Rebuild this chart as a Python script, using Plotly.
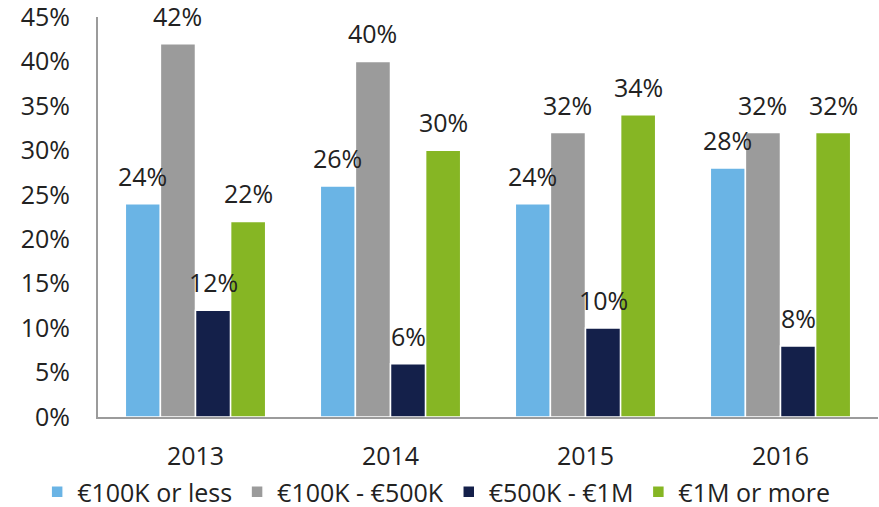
import plotly.graph_objects as go

years = ["2013", "2014", "2015", "2016"]
series_names = ["€100K or less", "€100K - €500K", "€500K - €1M", "€1M or more"]
less_100k = [24, 26, 24, 28]
k100_500 = [42, 40, 32, 32]
k500_1m = [12, 6, 10, 8]
m1_more = [22, 30, 34, 32]
y_ticks = [0, 5, 10, 15, 20, 25, 30, 35, 40, 45]

series_values = [less_100k, k100_500, k500_1m, m1_more]
colors = ["#6AB4E5", "#9B9B9B", "#14204A", "#86B624"]

FONT = "Open Sans"
FS = 25
bargap = 0.28

fig = go.Figure()
for name, vals, col in zip(series_names, series_values, colors):
    fig.add_trace(go.Bar(
        x=years, y=vals, name=name,
        marker=dict(color=col, line=dict(color="white", width=1.5)),
    ))

n = len(series_values)
w = (1 - bargap) / n
for i, vals in enumerate(series_values):
    off = -(1 - bargap) / 2 + w * (i + 0.5)
    for j, v in enumerate(vals):
        fig.add_annotation(
            x=j + off, y=v, text=f"{v}%", showarrow=False,
            xref="x", yref="y", yanchor="bottom", yshift=9,
            font=dict(family=FONT, size=FS, color="#222222"),
        )

fig.update_layout(
    width=879, height=507,
    margin=dict(l=98, r=1, t=17, b=90, autoexpand=False),
    paper_bgcolor="white", plot_bgcolor="white",
    barmode="group", bargap=bargap, bargroupgap=0,
    font=dict(family=FONT, size=FS, color="#222222"),
    showlegend=True,
    legend=dict(
        orientation="h", xref="paper", x=-0.078, xanchor="left",
        y=-0.1875, yanchor="middle",
        font=dict(family=FONT, size=FS, color="#222222"),
        itemwidth=30, traceorder="normal",
    ),
)
fig.update_xaxes(
    type="category", range=[-0.5, 3.5],
    showline=True, linecolor="#9B9B9B", linewidth=2,
    showgrid=False, ticks="", ticklabelstandoff=16,
    tickfont=dict(family=FONT, size=FS, color="#222222"),
)
fig.update_yaxes(
    range=[0, 45], tickvals=y_ticks, ticktext=[f"{t}%" for t in y_ticks],
    showline=True, linecolor="#9B9B9B", linewidth=2,
    showgrid=False, zeroline=False, ticks="", ticklabelstandoff=21,
    ticklabeloverflow="allow",
    tickfont=dict(family=FONT, size=FS, color="#222222"),
)

fig.write_html(
    "out.html",
    config={"displayModeBar": False},
    post_script="document.body.style.margin='0';",
)
